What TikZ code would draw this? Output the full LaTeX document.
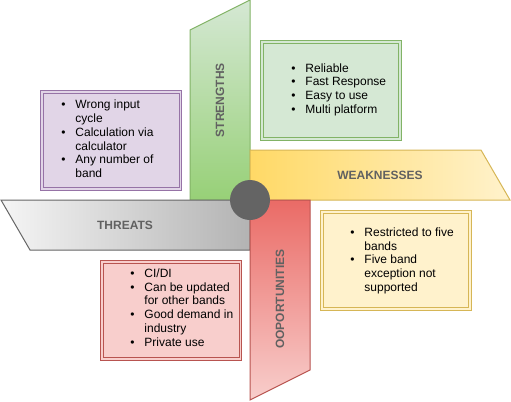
\documentclass[tikz,border=0pt]{standalone}
\usepackage{fontspec}
\setmainfont{Liberation Sans}
\usetikzlibrary{positioning}
\definecolor{grfill}{HTML}{D5E8D4}
\definecolor{grdark}{HTML}{97D077}
\definecolor{grline}{HTML}{82B366}
\definecolor{yefill}{HTML}{FFF2CC}
\definecolor{yedark}{HTML}{FFD966}
\definecolor{yeline}{HTML}{D6B656}
\definecolor{gylight}{HTML}{F5F5F5}
\definecolor{gydark}{HTML}{B3B3B3}
\definecolor{gyline}{HTML}{666666}
\definecolor{rdfill}{HTML}{F8CECC}
\definecolor{rddark}{HTML}{EA6B66}
\definecolor{rdline}{HTML}{B85450}
\definecolor{pufill}{HTML}{E1D5E7}
\definecolor{puline}{HTML}{9673A6}
\definecolor{labelc}{HTML}{616161}
\definecolor{hubc}{HTML}{646464}
\newcommand{\listfont}{\fontsize{9}{10.3}\selectfont}
\tikzset{
  arm/.style={line width=0.75pt},
  armlabel/.style={font=\fontsize{9}{10}\selectfont\bfseries, text=labelc, inner sep=0pt},
  bulletlist/.style={anchor=west, inner sep=0pt, align=left, font=\listfont, text=black},
  outerbox/.style={line width=0.75pt},
  innerbox/.style={line width=0.75pt}
}
\newcommand{\blist}[1]{\begin{tabular}{@{}l@{\hspace{7.5pt}}l@{}}#1\end{tabular}}
\begin{document}
\begin{tikzpicture}[x=0.75pt,y=-0.75pt]
\useasboundingbox (0,0) rectangle (511,401);
% strengths
\shade[top color=grfill, bottom color=grdark] (190,30) -- (250,0) -- (250,200) -- (190,200) -- cycle;
\draw[arm, grline] (190,30) -- (250,0) -- (250,200) -- (190,200) -- cycle;
% weaknesses
\shade[left color=yedark, right color=yefill] (250,150) -- (481,150) -- (510,200) -- (250,200) -- cycle;
\draw[arm, yeline] (250,150) -- (481,150) -- (510,200) -- (250,200) -- cycle;
% threats
\shade[left color=gylight, right color=gydark] (1,200) -- (250,200) -- (250,250) -- (30,250) -- cycle;
\draw[arm, gyline] (1,200) -- (250,200) -- (250,250) -- (30,250) -- cycle;
% opportunities
\shade[top color=rddark, bottom color=rdfill] (250,200) -- (310,200) -- (310,370) -- (250,400) -- cycle;
\draw[arm, rdline] (250,200) -- (310,200) -- (310,370) -- (250,400) -- cycle;
% hub
\fill[hubc] (250,200) circle (20);

% labels
\node[armlabel, rotate=90] (strengths) at (220,100) {STRENGTHS};
\node[armlabel] (weaknesses) at (380,175) {WEAKNESSES};
\node[armlabel] (threats) at (125,225) {THREATS};
\node[armlabel, rotate=90] (opportunities) at (280,299) {OOPORTUNITIES};

% boxes
\filldraw[outerbox, fill=pufill, draw=puline] (40.5,90.5) rectangle (181.5,190);
\draw[innerbox, puline] (43,93) rectangle (179,187.5);
\filldraw[outerbox, fill=grfill, draw=grline] (260.5,40.5) rectangle (401,140);
\draw[innerbox, grline] (263,43) rectangle (398.5,137.5);
\filldraw[outerbox, fill=yefill, draw=yeline] (320.5,210.5) rectangle (471,310);
\draw[innerbox, yeline] (323,213) rectangle (468.5,307.5);
\filldraw[outerbox, fill=rdfill, draw=rdline] (100.5,260.5) rectangle (241.5,360);
\draw[innerbox, rdline] (103,263) rectangle (239,357.5);

% lists
\node[bulletlist] (plist) at (61,140.5) {\blist{\textbullet & Wrong input\\ & cycle\\ \textbullet & Calculation via\\ & calculator\\ \textbullet & Any number of\\ & band}};
\node[bulletlist] (glist) at (291,90) {\blist{\textbullet & Reliable\\ \textbullet & Fast Response\\ \textbullet & Easy to use\\ \textbullet & Multi platform}};
\node[bulletlist] (ylist) at (350,261) {\blist{\textbullet & Restricted to five\\ & bands\\ \textbullet & Five band\\ & exception not\\ & supported}};
\node[bulletlist] (rlist) at (130,309) {\blist{\textbullet & CI/DI\\ \textbullet & Can be updated\\ & for other bands\\ \textbullet & Good demand in\\ & industry\\ \textbullet & Private use}};
\end{tikzpicture}
\end{document}
